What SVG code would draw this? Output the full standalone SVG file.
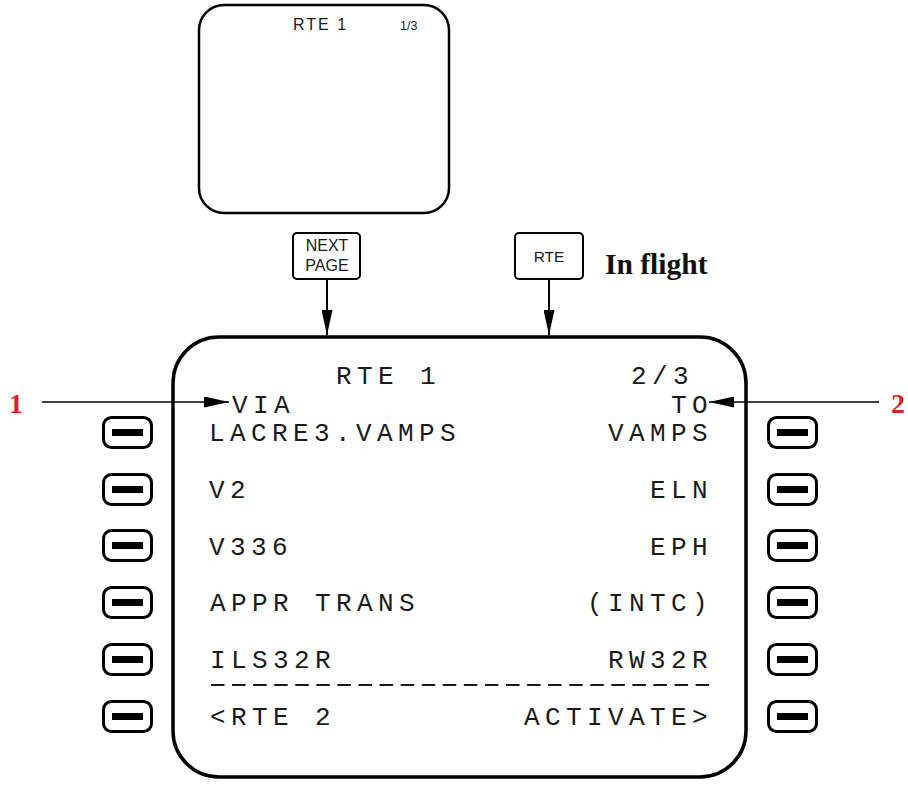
<svg xmlns="http://www.w3.org/2000/svg" width="908" height="786" viewBox="0 0 908 786">
<style>
.scr{fill:#fff;stroke:#000}
.key{fill:#fff;stroke:#000;stroke-width:2}
.lsk{fill:#fff;stroke:#000;stroke-width:3}
.bar{fill:#000}
.mono{font-family:"Liberation Mono",monospace;font-size:26px;letter-spacing:5.4px;fill:#1a1a1a}
.small{font-family:"Liberation Sans",Arial,sans-serif;fill:#1a1a1a}
.red{font-family:"Liberation Serif","Times New Roman",serif;font-weight:bold;font-size:28px;fill:#e31e24}
.conn{stroke:#000;fill:none}
</style>
<defs>
<marker id="ah" markerUnits="userSpaceOnUse" markerWidth="26" markerHeight="11" refX="25" refY="5.5" orient="auto">
<path d="M0,0 L25,5.5 L0,11 Z" fill="#000"/>
</marker>
</defs>
<rect width="908" height="786" fill="#fff"/>

<g id="page1">
<rect class="scr" x="199" y="5" width="250" height="208" rx="25" stroke-width="2.5"/>
<text class="small" x="293" y="30" font-size="16" letter-spacing="2">RTE 1</text>
<text class="small" x="400" y="30" font-size="12.5">1/3</text>
</g>

<g id="key-next-page">
<rect class="key" x="293" y="233" width="67" height="46" rx="4"/>
<text class="small" x="327" y="251" font-size="16" text-anchor="middle">NEXT</text>
<text class="small" x="327" y="271" font-size="16" text-anchor="middle">PAGE</text>
</g>

<g id="key-rte">
<rect class="key" x="515" y="233" width="68" height="46" rx="4"/>
<text class="small" x="549" y="262" font-size="15.5" text-anchor="middle">RTE</text>
</g>

<g id="label-in-flight">
<text x="605" y="274" font-family="Liberation Serif,Times New Roman,serif" font-weight="bold" font-size="29.5" fill="#111">In flight</text>
</g>

<g id="page2">
<rect class="scr" x="173" y="337" width="573" height="440" rx="46" stroke-width="3.5"/>
<text class="mono" x="336" y="384">RTE 1</text>
<text class="mono" x="631" y="384">2/3</text>
<text class="mono" x="232" y="413">VIA</text>
<text class="mono" x="713" y="413" text-anchor="end">TO</text>
<text class="mono" x="209" y="441">LACRE3.VAMPS</text>
<text class="mono" x="713" y="441" text-anchor="end">VAMPS</text>
<text class="mono" x="209" y="498">V2</text>
<text class="mono" x="713" y="498" text-anchor="end">ELN</text>
<text class="mono" x="209" y="555">V336</text>
<text class="mono" x="713" y="555" text-anchor="end">EPH</text>
<text class="mono" x="210" y="611">APPR TRANS</text>
<text class="mono" x="713" y="611" text-anchor="end">(INTC)</text>
<text class="mono" x="210" y="668">ILS32R</text>
<text class="mono" x="713" y="668" text-anchor="end">RW32R</text>
<line x1="211" y1="685" x2="710" y2="685" stroke="#1a1a1a" stroke-width="2" stroke-dasharray="13.5 7.57"/>
<text class="mono" x="210" y="725">&lt;RTE 2</text>
<text class="mono" x="713" y="725" text-anchor="end">ACTIVATE&gt;</text>
</g>

<g id="line-select-keys">
<g id="lsk-left">
<rect class="lsk" x="103.5" y="417.5" width="48" height="30" rx="8"/><rect class="bar" x="112" y="429" width="31" height="7"/>
<rect class="lsk" x="103.5" y="474.5" width="48" height="30" rx="8"/><rect class="bar" x="112" y="486" width="31" height="7"/>
<rect class="lsk" x="103.5" y="530.5" width="48" height="30" rx="8"/><rect class="bar" x="112" y="542" width="31" height="7"/>
<rect class="lsk" x="103.5" y="587.5" width="48" height="30" rx="8"/><rect class="bar" x="112" y="599" width="31" height="7"/>
<rect class="lsk" x="103.5" y="644.5" width="48" height="30" rx="8"/><rect class="bar" x="112" y="656" width="31" height="7"/>
<rect class="lsk" x="103.5" y="701.5" width="48" height="30" rx="8"/><rect class="bar" x="112" y="713" width="31" height="7"/>
</g>
<g id="lsk-right">
<rect class="lsk" x="768.5" y="417.5" width="48" height="30" rx="8"/><rect class="bar" x="777" y="429" width="31" height="7"/>
<rect class="lsk" x="768.5" y="474.5" width="48" height="30" rx="8"/><rect class="bar" x="777" y="486" width="31" height="7"/>
<rect class="lsk" x="768.5" y="530.5" width="48" height="30" rx="8"/><rect class="bar" x="777" y="542" width="31" height="7"/>
<rect class="lsk" x="768.5" y="587.5" width="48" height="30" rx="8"/><rect class="bar" x="777" y="599" width="31" height="7"/>
<rect class="lsk" x="768.5" y="644.5" width="48" height="30" rx="8"/><rect class="bar" x="777" y="656" width="31" height="7"/>
<rect class="lsk" x="768.5" y="701.5" width="48" height="30" rx="8"/><rect class="bar" x="777" y="713" width="31" height="7"/>
</g>
</g>

<g id="callout-1"><text class="red" x="9" y="413">1</text></g>
<g id="callout-2"><text class="red" x="891" y="413">2</text></g>

<g id="connectors">
<line class="conn" x1="327" y1="279" x2="327" y2="335" stroke-width="2" marker-end="url(#ah)"/>
<line class="conn" x1="549" y1="279" x2="549" y2="335" stroke-width="2" marker-end="url(#ah)"/>
<line class="conn" x1="42" y1="402" x2="229" y2="402" stroke-width="1.5" marker-end="url(#ah)"/>
<line class="conn" x1="879" y1="402" x2="709" y2="402" stroke-width="1.5" marker-end="url(#ah)"/>
</g>
</svg>
